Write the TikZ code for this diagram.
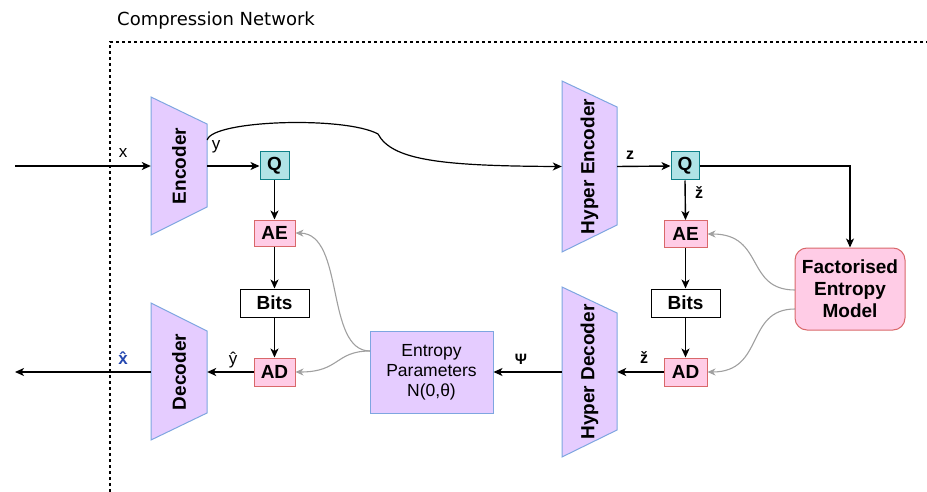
\documentclass[tikz,border=0pt]{standalone}
\usepackage{fontspec}
\setmainfont{Liberation Sans}
\newfontfamily\titlefont{DejaVu Sans}
\usetikzlibrary{arrows.meta,calc}

\definecolor{trapfill}{HTML}{E5CCFF}
\definecolor{trapline}{HTML}{7EA6E0}
\definecolor{qfill}{HTML}{B0E3E6}
\definecolor{qline}{HTML}{0E8088}
\definecolor{pinkfill}{HTML}{FFCCE6}
\definecolor{pinkline}{HTML}{D9686A}
\definecolor{hatblue}{HTML}{2548B0}
\definecolor{softgrey}{HTML}{A0A0A0}

\tikzset{
  big/.style={font=\fontsize{19}{22}\selectfont\bfseries},
  lbl/.style={font=\fontsize{17}{20}\selectfont, inner sep=0pt},
  blbl/.style={font=\fontsize{16}{20}\selectfont\bfseries, inner sep=0pt},
  trapbody/.style={fill=trapfill, draw=trapline, line width=1pt},
  traplabel/.style={big, rotate=90, inner sep=0pt},
  qbox/.style={draw=qline, fill=qfill, line width=1pt, big, inner sep=0pt},
  pinkbox/.style={draw=pinkline, fill=pinkfill, line width=1pt, big, inner sep=0pt},
  bitsbox/.style={draw=black, fill=white, line width=1pt, big, inner sep=0pt,
                  minimum width=69pt, minimum height=28pt},
  arr/.style={line width=1.4pt, -{Stealth[length=9pt,width=8pt,inset=2.5pt]}},
  garr/.style={line width=1.1pt, draw=softgrey, -{Stealth[length=8pt,width=7pt,inset=2.5pt]}},
  frame/.style={line width=1.3pt, dash pattern=on 3pt off 3pt},
}

\begin{document}
\begin{tikzpicture}[x=1pt,y=-1pt]
\useasboundingbox (0,0) rectangle (927,492);

% outline of the compression network
\node[anchor=west, inner sep=0pt, font=\titlefont\fontsize{18}{22}\selectfont] (title) at (117,21) {Compression Network};
\draw[frame] (110,492) -- (110,42) -- (927,42);

% trapezoid bodies (long side on the left)
\draw[trapbody] (151,97) -- (207,124) -- (207,207) -- (151,235) -- cycle;
\draw[trapbody] (151,303) -- (207,331) -- (207,413) -- (151,440) -- cycle;
\draw[trapbody] (562,81) -- (617,107) -- (617,225) -- (562,252) -- cycle;
\draw[trapbody] (562,287) -- (617,313) -- (617,430) -- (562,457) -- cycle;

% trapezoid nodes carrying labels and anchors
\node[traplabel, minimum width=138pt, minimum height=56pt] (enc) at (179,166) {Encoder};
\node[traplabel, minimum width=137pt, minimum height=56pt] (dec) at (179,372) {Decoder};
\node[traplabel, minimum width=171pt, minimum height=55pt] (he) at (589.5,166.5) {Hyper Encoder};
\node[traplabel, minimum width=170pt, minimum height=55pt] (hd) at (589.5,372) {Hyper Decoder};

% left branch
\node[qbox, minimum width=29pt, minimum height=28pt] (q1) at (274.5,166) {Q};
\node[pinkbox, minimum width=41pt, minimum height=26pt] (ae1) at (274.5,233) {AE};
\node[bitsbox] (bits1) at (274.5,303) {Bits};
\node[pinkbox, minimum width=41pt, minimum height=28pt] (ad1) at (274.5,372) {AD};

% right branch
\node[qbox, minimum width=28pt, minimum height=28pt] (q2) at (685,166) {Q};
\node[pinkbox, minimum width=43pt, minimum height=27pt] (ae2) at (685.5,234) {AE};
\node[bitsbox] (bits2) at (685.5,303) {Bits};
\node[pinkbox, minimum width=43pt, minimum height=28pt] (ad2) at (685.5,372) {AD};

% entropy models
\node[draw=trapline, fill=trapfill, line width=1pt, minimum width=123pt, minimum height=82pt,
      align=center, inner sep=0pt, font=\fontsize{17.5}{20}\selectfont] (ep) at (431.5,372)
      {Entropy\\Parameters\\N(0,θ)};
\node[draw=pinkline, fill=pinkfill, line width=1pt, rounded corners=12pt, minimum width=110pt,
      minimum height=82pt, align=center, inner sep=0pt, font=\fontsize{19}{22}\selectfont\bfseries] (fem) at (850,289)
      {Factorised\\Entropy\\Model};

% free ends of input and output lines
\coordinate (xin) at (15,166);
\coordinate (xout) at (15,372);
\coordinate (ytap) at ($(enc.south)+(0,-26)$);

% main data flow
\draw[arr] (xin) -- (enc.north);
\draw[arr] (enc.south) -- (q1.west);
\draw[arr] (q1.south) -- (ae1.north);
\draw[arr] (ae1.south) -- (bits1.north);
\draw[arr] (bits1.south) -- (ad1.north);
\draw[arr] (ad1.west) -- (dec.south);
\draw[arr] (dec.north) -- (xout);

\draw[arr, line width=1.2pt] (ytap) .. controls (212,120) and (345,116) .. (378,134)
      .. controls (392,160) and (440,166) .. (he.north);

\draw[arr] (he.south) -- (q2.west);
\draw[arr] (q2.south) -- (ae2.north);
\draw[arr] (ae2.south) -- (bits2.north);
\draw[arr] (bits2.south) -- (ad2.north);
\draw[arr] (ad2.west) -- (hd.south);
\draw[arr] (hd.north) -- (ep.east);
\draw[arr] (q2.east) -| (fem.north);

% probability model feeds
\coordinate (femA) at (795,290);
\coordinate (femB) at (795,309);
\coordinate (epA) at (370,351);
\draw[garr] (femA) .. controls (745,290) and (765,234) .. (ae2.east);
\draw[garr] (femB) .. controls (745,309) and (765,372) .. (ad2.east);
\draw[garr] (epA) .. controls (325,351) and (345,234) .. (ae1.east);
\draw[garr] (epA) .. controls (335,351) and (340,372) .. (ad1.east);

% signal labels
\node[lbl] (lx) at (123,153) {x};
\node[lbl] (ly) at (216,147) {y};
\node[lbl] (lyh) at (233,360) {ŷ};
\node[lbl, text=hatblue, font=\fontsize{17}{20}\selectfont\bfseries] (lxh) at (123,358) {\^x};
\node[blbl] (lz) at (630,155) {z};
\node[blbl] (lzq) at (699,193) {ž};
\node[blbl] (lzd) at (644,358) {ž};
\node[blbl, font=\fontsize{15}{18}\selectfont\bfseries] (lpsi) at (521,359) {Ψ};
\end{tikzpicture}
\end{document}
